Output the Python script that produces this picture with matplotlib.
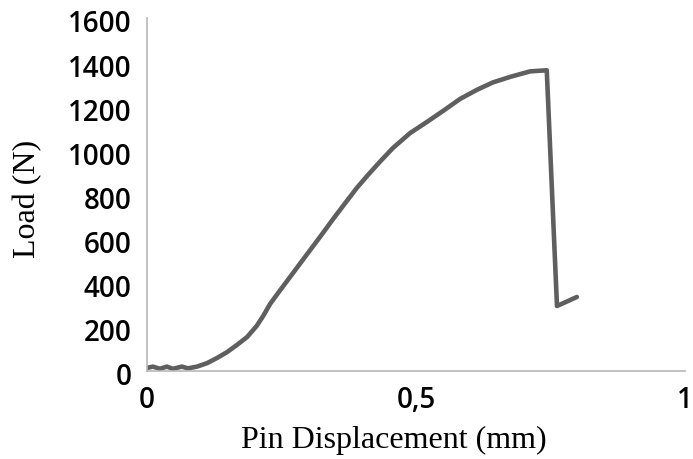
import matplotlib.pyplot as plt
import matplotlib.transforms as mtransforms

# displacement (mm) and load (N)
disp = [0.002, 0.011, 0.024, 0.037, 0.048, 0.065, 0.076, 0.093, 0.112, 0.130,
        0.149, 0.167, 0.186, 0.204, 0.216, 0.229, 0.247, 0.266, 0.284, 0.303,
        0.322, 0.346, 0.364, 0.390, 0.409, 0.433, 0.457, 0.489, 0.520, 0.550,
        0.582, 0.613, 0.643, 0.675, 0.712, 0.743, 0.762, 0.799]
load = [15, 20, 10, 20, 10, 20, 12, 20, 36, 59,
        86, 118, 154, 205, 250, 305, 365, 427, 486, 548,
        610, 690, 748, 831, 885, 950, 1012, 1080, 1130, 1180,
        1235, 1276, 1310, 1335, 1360, 1365, 295, 336]

x_ticks = [0, 0.5, 1]
x_tick_labels = ['0', '0,5', '1']
y_ticks = [0, 200, 400, 600, 800, 1000, 1200, 1400, 1600]

fig = plt.figure(figsize=(6.93, 4.59), dpi=100)
ax = fig.add_axes([0.2121, 0.1917, 0.7764, 0.768])

ax.plot(disp, load, color='#5f5f5f', lw=3.3, solid_capstyle='round', solid_joinstyle='round')

ax.set_xlim(0, 1)
ax.set_ylim(0, 1600)
ax.set_xticks(x_ticks)
ax.set_xticklabels(x_tick_labels)
ax.set_yticks(y_ticks)

for s in ['top', 'right']:
    ax.spines[s].set_visible(False)
for s in ['left', 'bottom']:
    ax.spines[s].set_color('#b8b8b8')
    ax.spines[s].set_linewidth(1.2)

ax.tick_params(axis='both', length=0, labelsize=20, colors='black')
ax.tick_params(axis='y', pad=11)
ax.tick_params(axis='x', pad=11)
for lab in ax.get_xticklabels() + ax.get_yticklabels():
    lab.set_fontfamily('Open Sans')
    lab.set_fontweight('semibold')

# y tick labels sit a little below their tick in the original
shift = mtransforms.ScaledTranslation(0, -3 / 100, fig.dpi_scale_trans)
for lab in ax.get_yticklabels():
    lab.set_transform(lab.get_transform() + shift)

ax.set_xlabel('Pin Displacement (mm)', fontfamily='Liberation Serif', fontsize=23)
ax.set_ylabel('Load (N)', fontfamily='Liberation Serif', fontsize=23)
ax.xaxis.set_label_coords(0.459, -0.156)
ax.yaxis.set_label_coords(-0.195, 0.488)

fig.savefig('out.png', dpi=100)
